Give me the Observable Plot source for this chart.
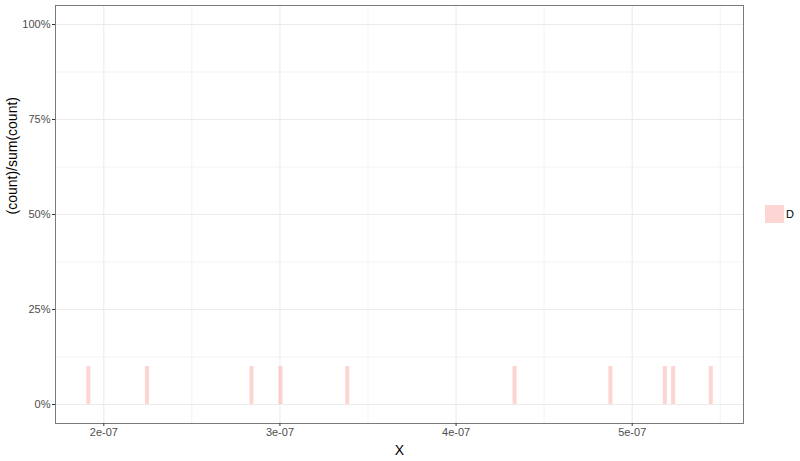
<!DOCTYPE html>
<html>
<head>
<meta charset="utf-8">
<script src="https://cdn.jsdelivr.net/npm/d3@7"></script>
<script src="https://cdn.jsdelivr.net/npm/@observablehq/plot@0.6"></script>
<style>
  body { margin: 0; background: #fff; font-family: "Liberation Sans", Arial, sans-serif; }
  #wrap { position: relative; width: 800px; height: 461px; }
  #legend { position: absolute; left: 765px; top: 205px; display: flex; align-items: center; font-size: 11px; color: #000; }
  #legend .key { width: 19px; height: 18px; background: rgba(248,118,109,0.3); margin-right: 2px; }
</style>
</head>
<body>
<div id="wrap"><div id="legend"><div class="key"></div><span>D</span></div></div>
<script>
// Data
const binCenters = [1.915e-7, 2.248e-7, 2.841e-7, 3.006e-7, 3.385e-7, 4.335e-7, 4.879e-7, 5.188e-7, 5.235e-7, 5.449e-7];
const counts = [1, 1, 1, 1, 1, 1, 1, 1, 1, 1];
const group = "D";
const binWidth = 2.3e-9;
const xTicks = [2e-7, 3e-7, 4e-7, 5e-7];
const xMinor = [2.5e-7, 3.5e-7, 4.5e-7, 5.5e-7];
const yTicks = [0, 0.25, 0.5, 0.75, 1];
const yMinor = [0.125, 0.375, 0.625, 0.875];

const total = d3.sum(counts);
const bars = binCenters.map((c, i) => ({
  x1: c - binWidth / 2, x2: c + binWidth / 2, y: counts[i] / total, group
}));

const xFmt = v => d3.format(".0e")(v).replace(/e-(\d)$/, "e-0$1");
const yFmt = d3.format(".0%");

const chart = Plot.plot({
  width: 800,
  height: 461,
  marginLeft: 55,
  marginRight: 57,
  marginTop: 5,
  marginBottom: 38,
  style: { fontFamily: "Liberation Sans, Arial, sans-serif", background: "transparent" },
  x: { domain: [1.7256e-7, 5.632e-7] },
  y: { domain: [-0.05, 1.05] },
  marks: [
    Plot.ruleX(xMinor, { stroke: "#EBEBEB", strokeWidth: 0.6 }),
    Plot.ruleY(yMinor, { stroke: "#EBEBEB", strokeWidth: 0.6 }),
    Plot.ruleX(xTicks, { stroke: "#EBEBEB", strokeWidth: 1.1 }),
    Plot.ruleY(yTicks, { stroke: "#EBEBEB", strokeWidth: 1.1 }),
    Plot.rectY(bars, { x1: "x1", x2: "x2", y1: 0, y2: "y", fill: "#F8766D", fillOpacity: 0.3 }),
    Plot.frame({ stroke: "#7A7A7A", strokeWidth: 1 }),
    Plot.axisX({ ticks: xTicks, tickFormat: xFmt, tickSize: 3, tickPadding: 2, stroke: "#333333",
      color: "#4D4D4D", fontSize: 11, label: null }),
    Plot.axisY({ ticks: yTicks, tickFormat: yFmt, tickSize: 3, tickPadding: 2, stroke: "#333333",
      color: "#4D4D4D", fontSize: 11, label: null }),
    Plot.text(["X"], { frameAnchor: "bottom", dy: 31, fontSize: 14, fill: "#000" }),
    Plot.text(["(count)/sum(count)"], { frameAnchor: "left", dx: -43, rotate: -90, fontSize: 14, fill: "#000" })
  ]
});
document.getElementById("wrap").prepend(chart);
chart.style.position = "absolute";
chart.style.left = "0";
chart.style.top = "0";
</script>
</body>
</html>
